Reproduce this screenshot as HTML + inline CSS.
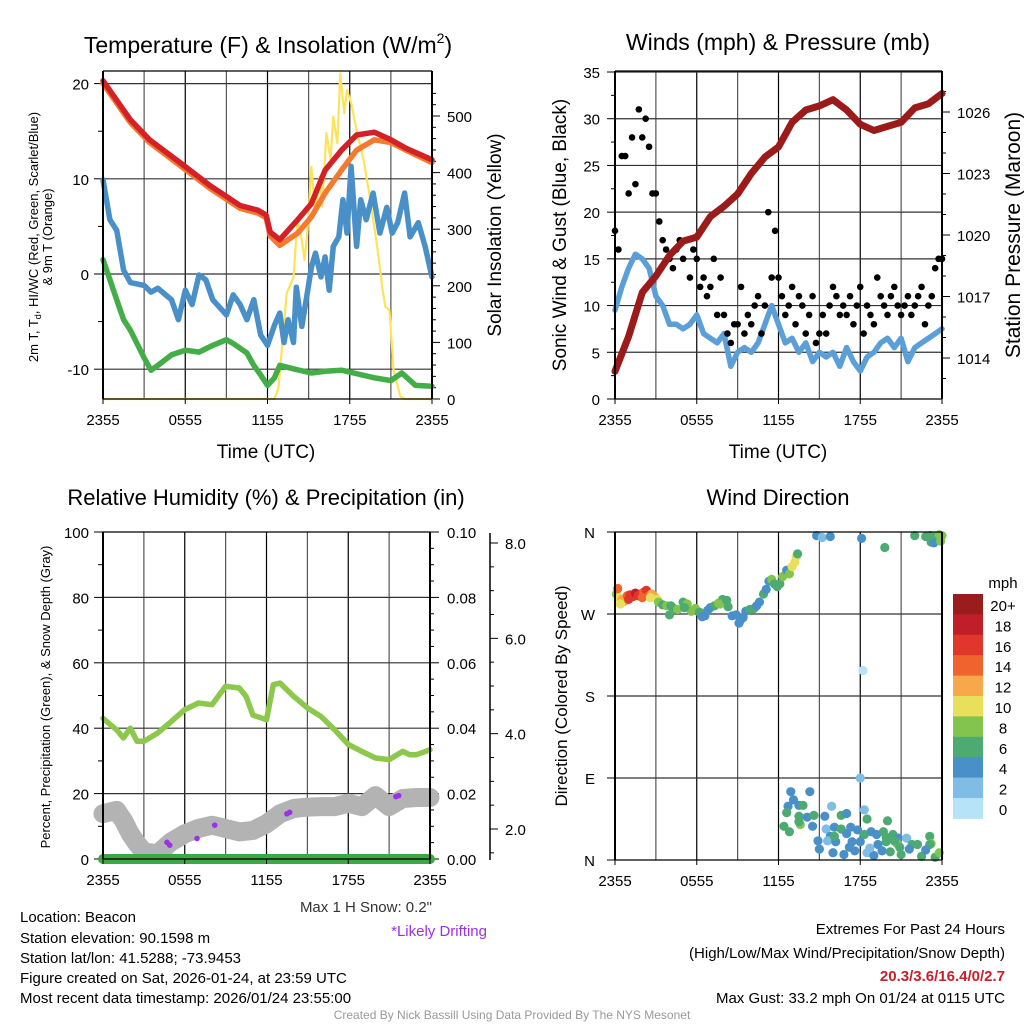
<!DOCTYPE html>
<html><head><meta charset="utf-8"><style>
html,body{margin:0;padding:0;background:#fff;}
svg{display:block;font-family:"Liberation Sans",sans-serif;}
</style></head><body>
<svg id="c" width="1024" height="1024" viewBox="0 0 1024 1024"></svg>
<script>
// ---------- Temperature panel data ----------
const tempHours=[0,2,3.4,5.8,7.8,10,11.3,11.9,12.2,12.9,14.2,15.2,16.2,17.4,18.5,19.8,21,22.1,24];
const tempRed=[20.3,16.2,14.1,11.5,9.3,7.2,6.7,6.2,4.4,3.6,5.7,7.4,10.9,13.0,14.6,14.9,14.1,13.2,12.0];
const tempOrange=[20.0,15.9,13.8,11.2,9.0,6.9,6.4,5.9,4.0,3.0,4.3,6.0,8.5,10.9,13.0,14.1,13.8,13.0,11.7];
const dewHours=[0,0.5,1,1.5,2,3,3.5,4,5,5.5,6,6.5,7,7.5,8,9,9.5,10,10.5,11,11.5,12,12.5,12.9,13.2,13.5,13.9,14.1,14.5,14.9,15.2,15.5,15.9,16.2,16.5,16.8,17.2,17.5,17.8,18.1,18.5,18.8,19.2,19.7,20.2,20.7,21.1,21.5,22,22.4,23,23.5,24];
const dewVals=[9.9,5.7,4.6,0.4,-0.9,-1.2,-1.9,-1.5,-2.7,-4.8,-1.7,-3.2,-0.1,-0.6,-2.7,-4.3,-2.2,-3.2,-4.8,-2.7,-6.4,-7.5,-5.4,-4.1,-7.2,-4.8,-7.2,-1.4,-5.5,-2.0,0.7,2.2,-0.3,1.8,-1.7,2.9,3.9,7.8,4.3,11.3,2.9,7.8,5.7,8.5,4.3,7.0,4.3,5.4,8.5,3.9,5.4,2.9,-0.3];
const wcHours=[0,0.5,1,1.5,2,3,3.5,4,5,6,7,8,9,9.5,10,10.5,11,11.5,12,12.5,12.9,14,15.2,16.3,17.4,18.6,19.8,21,21.8,22.8,24];
const wcVals=[1.5,-0.6,-2.7,-4.8,-5.9,-8.8,-10.1,-9.6,-8.5,-8.0,-8.2,-7.5,-6.9,-7.3,-7.8,-8.3,-9.6,-10.6,-11.7,-10.9,-9.6,-10.0,-10.4,-10.2,-10.1,-10.5,-10.9,-11.2,-10.4,-11.7,-11.8];
const solarHours=[0,12.5,12.8,12.9,13.4,13.9,14.2,14.5,14.7,14.9,15.2,15.5,15.8,16.0,16.3,16.6,16.8,17.1,17.3,17.6,17.8,18.1,18.5,19.0,19.5,20.0,20.4,20.6,20.9,21.2,21.7,22,24];
const solarVals=[0,0,20,46,187,215,321,281,246,293,410,328,393,340,470,423,499,452,575,505,546,523,475,423,352,269,193,163,157,51,4,0,0];
// ---------- Wind panel data ----------
const presHours=[0,1,2,3,4,5,6,7,8,9,10,11,12,13,14,15,16,17,18,19,20,21,22,23,24];
const presVals=[1013.35,1015.05,1017.2,1018.0,1019.0,1019.7,1019.9,1020.9,1021.4,1022.0,1023.0,1023.8,1024.3,1025.5,1026.1,1026.3,1026.6,1026.1,1025.4,1025.1,1025.3,1025.5,1026.2,1026.4,1026.9];
const windVals=[9.5,12,14,15.5,15,14,11,10,8,8,7.5,8,9,7,6.5,6,7,3.5,5,5.5,5,6,8,10,8,6,6.5,5,6,4,5,4.5,5,3.5,5.5,4,3,4.5,5,6,6.5,5.5,6.5,4,5.5,6,6.5,7,7.5];
const gustVals=[18,16,26,26,22,28,23,31,28,30,27,22,22,19,17,16,15,14,16,17,15,17,13,16,15,12,13,11,12,15,9,13,9,7,6,8,8,12,7,9,8,10,11,7,10,20,13,18,13,11,9,10,12,8,11,10,7,9,11,6,7,9,7,10,12,11,9,10,9,11,8,10,12,7,10,9,8,13,11,10,9,11,12,10,9,10,11,9,10,11,12,8,10,11,14,15,15];
// ---------- RH panel data ----------
const rhHours=[0,1,1.5,2,2.5,3,4,5,6,7,8,9,10,10.5,11,12,12.5,13,14,15,16,17,18,19,20,21,22,22.5,23,24];
const rhVals=[43,39.5,37,40,36,36,38.5,42,45.7,47.7,47.2,52.8,52.3,49.7,44,42.6,53.3,53.8,49.7,46.2,43.6,39.5,35,32.9,30.9,30.4,32.9,31.9,31.9,33.4];
const snowHours=[0,1,1.5,2,2.5,3,4,5,6,7,8,9,10,11,12,13,14,15,16,17,18,19,20,21,22,23,24];
const snowVals=[2.32,2.39,2.18,1.90,1.69,1.52,1.48,1.73,1.90,2.01,2.08,2.01,1.94,1.97,2.11,2.32,2.43,2.46,2.47,2.47,2.54,2.47,2.70,2.47,2.64,2.66,2.66];
const driftHours=[4.7,4.9,6.9,8.2,13.5,13.7,21.5,21.7];
const driftVals=[1.72,1.66,1.80,2.08,2.32,2.35,2.68,2.70];
const precipVals=[0,0];
// ---------- Wind direction data: [hour, degrees, mph] ----------
const dirPts=[[0.1,292,9],[0.2,298,15],[0.3,288,11],[0.5,286,12],[0.7,284,13],[0.9,290,14],[1.1,291,17],[1.3,289,16],[1.5,293,18],[1.7,290,17],[1.9,292,16],[2.1,294,15],[2.3,296,17],[2.5,290,14],[2.7,292,13],[0.4,281,10],[1.0,286,16],[2.0,288,15],[2.9,289,12],[3.1,286,10],[2.6,288,11],
[3.2,283,8],[3.5,280,7],[3.8,279,8],[4.1,279,6],[4.3,276,7],[4.0,269,6],[4.6,275,8],[5.0,283,7],[5.3,281,8],[5.6,273,8],[5.9,276,8],[6.2,272,6],[6.4,267,4],[6.6,268,4],[7.0,277,4],[7.3,279,6],[7.6,282,8],[7.9,286,7],[8.1,282,7],[8.3,278,6],[6.8,274,4],[5.1,277,6],[7.7,281,8],[8.2,285,6],
[8.6,268,4],[8.9,269,4],[9.2,263,4],[9.4,266,4],[9.1,260,4],[9.6,273,4],[9.9,275,6],[10.2,276,6],[10.4,279,4],[10.6,283,4],[10.9,292,6],[11.1,297,4],[11.3,306,4],[11.5,308,8],[11.7,303,6],[11.9,300,6],[12.1,303,6],[12.3,311,8],[12.6,318,4],[12.8,314,8],[13.0,322,10],[13.2,327,10],[13.3,333,10],[13.4,336,6],
[14.8,356,4],[15.2,354,3],[15.8,355,4],[18.1,353,4],[19.8,343,6],[22.0,356,6],[22.8,355,6],[23.3,352,6],[23.6,355,6],[23.8,357,8],[24.0,356,8],[23.2,349,6],[23.4,348,4],[23.9,350,8],[23.1,356,6],[18.2,208,1],[18.0,90,3],
[12.9,75,4],[14.3,75,4],[12.7,59,4],[13.1,66,4],[13.5,60,4],[13.8,60,6],[12.6,52,6],[13.5,48,6],[14.1,47,4],[14.6,49,6],[15.4,48,4],[15.9,59,2],[16.6,49,6],[17.0,51,4],[18.3,55,2],[18.5,45,6],[20.0,43,6],[12.4,37,6],[12.8,31,6],[13.6,39,8],[14.5,37,4],[15.5,34,2],[15.8,26,4],[16.1,36,4],[16.6,34,6],[17.0,29,4],[17.3,36,4],[17.8,33,4],[18.3,28,6],[18.8,31,4],[19.2,28,4],[19.7,31,6],[19.9,25,6],[20.4,28,6],[20.8,24,4],[21.4,24,2],[20.7,18,8],[22.2,17,6],[23.1,26,6],[23.2,18,8],[14.9,21,4],[15.6,21,2],[16.2,20,4],[17.4,20,4],[18.0,20,4],[19.3,17,4],[19.9,20,6],[20.5,21,6],[21.8,17,6],[23.1,17,6],[16.1,26,6],[13.5,42,6],
[15.0,12,4],[16.0,8,4],[16.8,6,4],[17.6,10,4],[18.5,8,2],[19.0,5,4],[20.2,9,6],[21.0,6,6],[21.6,12,4],[22.5,4,6],[23.5,3,6],[23.8,8,8],[17.2,14,4],[18.7,13,2],[19.6,10,4],[20.9,14,6],[22.8,11,4]];
const speedColors=["#b6e3f8","#7fbde6","#4a90c8","#4caa72","#82c44e","#e8e05a","#f7a84a","#f0622e","#e0362c","#c01e28","#9b1c1c"];
const cbLabels=["20+","18","16","14","12","10","8","6","4","2","0"];
const timeLabels=["2355","0555","1155","1755","2355"];

const NS="http://www.w3.org/2000/svg";
const svg=document.getElementById('c');
function mk(tag,attrs,parent){const e=document.createElementNS(NS,tag);for(const k in attrs)e.setAttribute(k,attrs[k]);(parent||svg).appendChild(e);return e;}
function txt(s,x,y,size,anchor,parent,extra){const t=mk('text',Object.assign({x:x,y:y,'font-size':size,'text-anchor':anchor||'middle',fill:'#000'},extra||{}),parent);t.textContent=s;return t;}
function lin(a,b){return v=>a[1]+(v-a[0])*(b[1]-a[1])/(b[0]-a[0]);}

function frame(g,X0,X1,Y0,Y1,hLines){
  for(let h=3;h<24;h+=3){const x=X0+(X1-X0)*h/24;mk('line',{x1:x,y1:Y0,x2:x,y2:Y1,stroke:(h%6? '#555':'#000'),'stroke-width':1.2},g);}
  hLines.forEach(y=>mk('line',{x1:X0,y1:y,x2:X1,y2:y,stroke:'#333','stroke-width':1.2},g));
}
function border(g,X0,X1,Y0,Y1){
  mk('line',{x1:X0,y1:Y0,x2:X0,y2:Y1,stroke:'#000','stroke-width':2},g);
  mk('line',{x1:X1,y1:Y0,x2:X1,y2:Y1,stroke:'#000','stroke-width':2},g);
  mk('line',{x1:X0,y1:Y0,x2:X1,y2:Y0,stroke:'#000','stroke-width':1.2},g);
  mk('line',{x1:X0,y1:Y1,x2:X1,y2:Y1,stroke:'#000','stroke-width':1.2},g);
  for(let i=0;i<5;i++){const x=X0+(X1-X0)*i/4;mk('line',{x1:x,y1:Y1,x2:x,y2:Y1+5,stroke:'#000'},g);
    const t=txt(timeLabels[i],x,Y1+26,15,'middle',g);}
}
function path(g,xs,ys,sx,sy,color,w,name){
  const d=xs.map((h,i)=>(i?'L':'M')+sx(h).toFixed(1)+','+sy(ys[i]).toFixed(1)).join('');
  const p=mk('path',{d:d,fill:'none',stroke:color,'stroke-width':w,'stroke-linejoin':'round','stroke-linecap':'round'},g);
  return p;
}

// ================= Panel 1: Temperature =================
(function(){
  const g=mk('g',{});
  const X0=103,X1=432,Y0=71,Y1=399;
  const sx=lin([0,X0],[24,X1]);const sy=lin([0,274],[10,178.8]);const sw=lin([0,399],[500,116]);
  frame(g,X0,X1,Y0,Y1,[-10,0,10,20].map(sy));
  for(let v=-10;v<=20;v+=5){const y=sy(v);mk('line',{x1:X0-(v%10?5:9),y1:y,x2:X0,y2:y,stroke:'#000'},g);
    if(v%10===0){const t=txt(String(v),X0-14,y+6,15,'end',g);}}
  for(let w=0;w<=550;w+=20){const y=sw(w);if(y<Y0)break;mk('line',{x1:X1,y1:y,x2:X1+(w%100?4:8),y2:y,stroke:'#000'},g);}
  for(let w=0;w<=500;w+=100){const t=txt(String(w),X1+15,sw(w)+6,15,'start',g);}
  path(g,solarHours,solarVals,sx,sw,'#fde35a',2.2,'solar-line');
  path(g,wcHours,wcVals,sx,sy,'#43ad47',5.5,'windchill-line');
  path(g,dewHours,dewVals,sx,sy,'#4a90c8',5.5,'dewpoint-line');
  path(g,tempHours,tempOrange,sx,sy,'#f47a30',5.5,'temp-9m-line');
  path(g,tempHours,tempRed,sx,sy,'#d42027',5.5,'temp-2m-line');
  border(g,X0,X1,Y0,Y1);
  const t=mk('text',{x:268,y:53,'font-size':23,'text-anchor':'middle'},g);t.innerHTML='Temperature (F) &amp; Insolation (W/m<tspan font-size="14" dy="-10">2</tspan><tspan dy="10">)</tspan>';
  
  const yt=mk('text',{transform:'translate(38,237) rotate(-90)','font-size':13,'text-anchor':'middle'},g);
  yt.innerHTML='2m T, T<tspan font-size="9" dy="3">d</tspan><tspan dy="-3">, HI/WC (Red, Green, Scarlet/Blue)</tspan>';
  
  const yt2=txt('& 9m T (Orange)',0,0,13,'middle',g,{transform:'translate(52,237) rotate(-90)'});
  const r=txt('Solar Insolation (Yellow)',0,0,19,'middle',g,{transform:'translate(501,235) rotate(-90)'});
  const xt=txt('Time (UTC)',266,458,19,'middle',g);
})();

// ================= Panel 2: Winds =================
(function(){
  const g=mk('g',{});
  const X0=615,X1=942,Y0=71,Y1=399;
  const sx=lin([0,X0],[24,X1]);const sy=lin([0,399],[35,72]);const sp=lin([1014,358],[1026,112]);
  frame(g,X0,X1,Y0,Y1,[5,10,15,20,25,30,35].map(sy));
  for(let v=0;v<=35;v+=2.5){const y=sy(v);mk('line',{x1:X0-(v%5?4:8),y1:y,x2:X0,y2:y,stroke:'#000'},g);}
  for(let v=0;v<=35;v+=5){const t=txt(String(v),X0-15,sy(v)+6,15,'end',g);}
  for(let p=1013;p<=1027;p++){const y=sp(p);if(y<Y0||y>Y1)continue;mk('line',{x1:X1,y1:y,x2:X1+((p-1014)%3?4:8),y2:y,stroke:'#000'},g);}
  for(let p=1014;p<=1026;p+=3){const t=txt(String(p),X1+15,sp(p)+6,15,'start',g);}
  const wh=windVals.map((v,i)=>i*0.5);
  path(g,wh,windVals,sx,sy,'#5a9fd8',5.5,'sonic-wind-line');
  gustVals.forEach((v,i)=>{const c=mk('circle',{cx:sx(i*0.25),cy:sy(v),r:3.3,fill:'#000'},g);
    });
  path(g,presHours,presVals,sx,sp,'#9b1a1a',7,'pressure-line');
  border(g,X0,X1,Y0,Y1);
  const t=txt('Winds (mph) & Pressure (mb)',778,50,23,'middle',g);
  const yl=txt('Sonic Wind & Gust (Blue, Black)',0,0,19,'middle',g,{transform:'translate(566,235) rotate(-90)'});
  const yr=txt('Station Pressure (Maroon)',0,0,21,'middle',g,{transform:'translate(1020,235) rotate(-90)'});
  const xt=txt('Time (UTC)',778,458,19,'middle',g);
})();

// ================= Panel 3: RH =================
(function(){
  const g=mk('g',{});
  const X0=103,X1=430,Y0=532,Y1=859;
  const sx=lin([0,X0],[24,X1]);const sy=lin([0,859],[100,532]);const ss=lin([2,829],[8,543]);
  frame(g,X0,X1,Y0,Y1,[20,40,60,80].map(sy));
  for(let v=0;v<=100;v+=10){const y=sy(v);mk('line',{x1:X0-(v%20?5:9),y1:y,x2:X0,y2:y,stroke:'#000'},g);}
  for(let v=0;v<=100;v+=20){const t=txt(String(v),X0-14,sy(v)+6,15,'end',g);}
  for(let v=0;v<=100;v+=5){const y=sy(v);mk('line',{x1:X1,y1:y,x2:X1+(v%20?4:9),y2:y,stroke:'#000'},g);}
  for(let v=0;v<=100;v+=20){const t=txt((v/1000).toFixed(2),X1+17,sy(v)+6,15,'start',g);}
  const SX=490;mk('line',{x1:SX,y1:533,x2:SX,y2:860,stroke:'#000','stroke-width':1.5},g);
  for(let s=1.5;s<=8.3;s+=0.5){const y=ss(s);if(y<533)continue;mk('line',{x1:SX,y1:y,x2:SX+(s%2?4:8),y2:y,stroke:'#000'},g);}
  for(let s=2;s<=8;s+=2){const t=txt(s.toFixed(1),SX+15,ss(s)+6,15,'start',g);}
  path(g,rhHours,rhVals,sx,sy,'#8cc84b',5.5,'rh-line');
  path(g,snowHours,snowVals,sx,ss,'#b3b3b3',19,'snow-depth-line');
  driftHours.forEach((h,i)=>{const c=mk('circle',{cx:sx(h),cy:ss(driftVals[i]),r:2.8,fill:'#9b30e8'},g);
    });
  path(g,[0,24],precipVals.map(v=>v*1000),sx,sy,'#3ea845',10,'precip-line');
  border(g,X0,X1,Y0,Y1);
  const t=txt('Relative Humidity (%) & Precipitation (in)',266,505,22,'middle',g);
  const yl=txt('Percent, Precipitation (Green), & Snow Depth (Gray)',0,0,13,'middle',g,{transform:'translate(50,697) rotate(-90)'});
  const m=txt('Max 1 H Snow: 0.2"',432,912,15,'end',g,{fill:'#333'});
  const d=txt('*Likely Drifting',487,936,15,'end',g,{fill:'#9b30e8'});
})();

// ================= Panel 4: Wind direction =================
(function(){
  const g=mk('g',{});
  const X0=615,X1=942,Y0=532,Y1=860;
  const sx=lin([0,X0],[24,X1]);const sd=lin([0,860],[360,532]);
  frame(g,X0,X1,Y0,Y1,[90,180,270].map(sd));
  const dl=["N","E","S","W","N"];
  dl.forEach((s,i)=>{const y=sd(i*90);mk('line',{x1:X0-8,y1:y,x2:X0,y2:y,stroke:'#000'},g);
    const t=txt(s,X0-20,y+6,15,'end',g);});
  dirPts.forEach(p=>{const idx=Math.min(10,Math.floor(p[2]/2));
    const c=mk('circle',{cx:sx(p[0]),cy:sd(p[1]),r:4.6,fill:speedColors[idx]},g);
    });
  border(g,X0,X1,Y0,Y1);
  const t=txt('Wind Direction',778,505,22,'middle',g);
  const yl=txt('Direction (Colored By Speed)',0,0,17,'middle',g,{transform:'translate(567,696) rotate(-90)'});
  const cb=mk('g',{},g);
  const bh=20.4;
  for(let i=0;i<11;i++){const r=mk('rect',{x:953,y:594+i*bh,width:30,height:bh+0.5,fill:speedColors[10-i]},cb);
    
    const l=txt(cbLabels[i],1003,611+i*bh,15,'middle',cb);}
  const u=txt('mph',1003,588,15,'middle',cb);
})();

// ================= Footer text =================
(function(){
  const g=mk('g',{});
  const lines=["Location: Beacon","Station elevation: 90.1598 m","Station lat/lon: 41.5288; -73.9453","Figure created on Sat, 2026-01-24, at 23:59 UTC","Most recent data timestamp: 2026/01/24 23:55:00"];
  const ys=[922,943,963,983,1003];
  lines.forEach((s,i)=>{const t=txt(s,20,ys[i],15,'start',g);});
  const e=mk('g',{});
  const a=txt('Extremes For Past 24 Hours',1005,934,15,'end',e);
  const b=txt('(High/Low/Max Wind/Precipitation/Snow Depth)',1005,958,15,'end',e);
  const c=txt('20.3/3.6/16.4/0/2.7',1005,981,15,'end',e,{fill:'#c8202a','font-weight':'bold'});
  const d=txt('Max Gust: 33.2 mph On 01/24 at 0115 UTC',1005,1003,15,'end',e);
  const f=txt('Created By Nick Bassill Using Data Provided By The NYS Mesonet',512,1019,12,'middle',svg,{fill:'#999'});
})();
</script>
</body></html>
